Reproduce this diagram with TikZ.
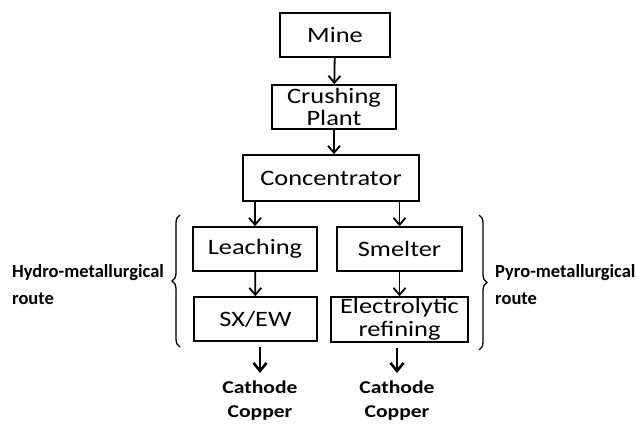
\documentclass[tikz,border=0pt]{standalone}
\usepackage{fontspec}
\setmainfont{Carlito}
\newfontfamily\widefont[FakeStretch=1.2]{Carlito}
\usetikzlibrary{arrows.meta,decorations.pathreplacing}

\tikzset{
  stage/.style={draw, line width=1.6pt, inner sep=0pt, minimum height=44pt,
    align=center, font=\widefont\fontsize{22}{22}\selectfont},
  flow/.style={line width=1.8pt, -{Straight Barb[length=7pt,width=12pt]}},
  outflow/.style={line width=2.6pt, -{Straight Barb[length=8pt,width=13pt]}},
  product/.style={inner sep=0pt, align=center,
    font=\widefont\bfseries\fontsize{18}{24}\selectfont},
  routelabel/.style={inner sep=0pt, align=left,
    font=\bfseries\fontsize{18.5}{27}\selectfont},
  routebrace/.style={decorate, decoration={brace, amplitude=8pt}, line width=1.3pt},
}

\begin{document}
\begin{tikzpicture}[x=1pt, y=1pt]

  \useasboundingbox (0,0) rectangle (636,426);

  % Layout the stages
  \node[stage, minimum width=110pt] (mine)  at (335,391)   {Mine}; %
  \node[stage, minimum width=124pt] (crush) at (334,319)   {Crushing\\Plant}; %
  \node[stage, minimum width=176pt, minimum height=46pt] (conc) at (331,248) {Concentrator}; %
  \node[stage, minimum width=124pt] (leach) at (255,177)   {Leaching}; %
  \node[stage, minimum width=125pt] (smelt) at (399.5,177) {Smelter}; %
  \node[stage, minimum width=123pt] (sxew)  at (255.5,107) {SX/EW}; %
  \node[stage, minimum width=137pt, minimum height=45pt,
    font=\widefont\fontsize{22}{23}\selectfont] (elec) at (399.5,106.5)
    {Electrolytic\\refining}; %

  % Products
  \node[product, anchor=north] (cath-l) at (260,45) {Cathode\\Copper}; %
  \node[product, anchor=north] (cath-r) at (397,45) {Cathode\\Copper}; %

  % Route labels
  \node[routelabel, anchor=north west] (hydro) at (12,162)  {Hydro-metallurgical\\route}; %
  \node[routelabel, anchor=north west] (pyro)  at (495,162) {Pyro-metallurgical\\route}; %

  % Flow connections
  \draw[flow] (mine) -- (crush); %
  \draw[flow] (crush.south) -- (crush.south |- conc.north); %
  \draw[flow] (conc.south -| leach) -- (leach); %
  \draw[flow] (conc.south -| smelt) -- (smelt); %
  \draw[flow] (leach) -- (sxew); %
  \draw[flow] (smelt) -- (elec); %
  \draw[outflow, shorten <=5pt, shorten >=8pt] (sxew.south -| cath-l) -- (cath-l.north); %
  \draw[outflow, shorten <=5pt, shorten >=8pt] (elec.south -| cath-r) -- (cath-r.north); %

  % Braces
  \coordinate (hydro-bot) at (180,79); %
  \coordinate (hydro-top) at (180,211); %
  \coordinate (pyro-top)  at (479,211); %
  \coordinate (pyro-bot)  at (479,76); %
  \draw[routebrace] (hydro-bot) -- (hydro-top); %
  \draw[routebrace] (pyro-top) -- (pyro-bot); %

\end{tikzpicture}
\end{document}
